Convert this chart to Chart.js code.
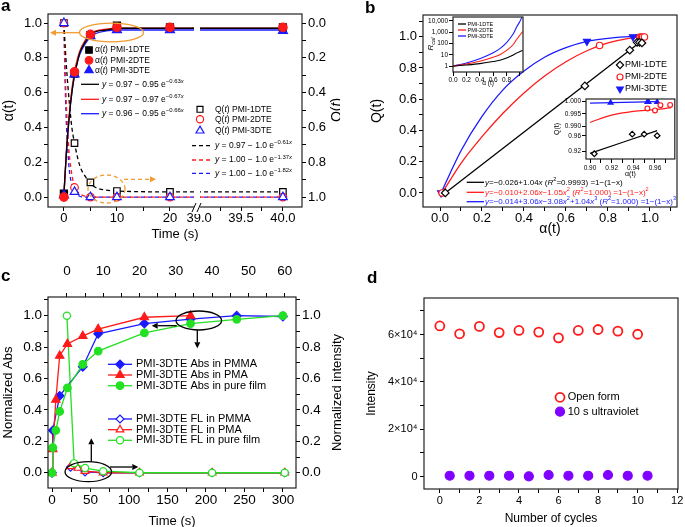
<!DOCTYPE html>
<html>
<head>
<meta charset="utf-8">
<script src="https://cdn.jsdelivr.net/npm/chart.js@4.4.1/dist/chart.umd.min.js"></script>
<style>
html, body { margin: 0; padding: 0; background: #fff; }
#fig { position: relative; width: 685px; height: 527px; overflow: hidden; background: #fff; font-family: "Liberation Sans", Arial, sans-serif; }
canvas { position: absolute; }
.lab { position: absolute; font-weight: bold; font-size: 17px; line-height: 17px; }
</style>
</head>
<body>
<div id="fig">
  <canvas id="ca" width="340" height="265" style="left:0px;top:0px"></canvas>
  <canvas id="cb" width="345" height="265" style="left:340px;top:0px"></canvas>
  <canvas id="cb1" width="108" height="80" style="left:420px;top:12px"></canvas>
  <canvas id="cb2" width="132" height="95" style="left:548px;top:92px"></canvas>
  <canvas id="cc" width="345" height="262" style="left:0px;top:265px"></canvas>
  <canvas id="cd" width="340" height="262" style="left:345px;top:265px"></canvas>
  <div class="lab" style="left:1px;top:-3px">a</div>
  <div class="lab" style="left:365px;top:-1px">b</div>
  <div class="lab" style="left:1px;top:267px">c</div>
  <div class="lab" style="left:367px;top:269px">d</div>
</div>
<script>
"use strict";
const FONT = '"Liberation Sans", Arial, sans-serif';
Chart.defaults.font.family = FONT;
Chart.defaults.color = '#000';

// ---------- panel a : conversion vs time ----------
const aTime = [0, 2, 5, 10, 20, 40];
const aAlpha1 = [0.02, 0.71, 0.93, 0.985, 0.975, 0.975];
const aAlpha2 = [0.0, 0.72, 0.935, 0.975, 0.975, 0.975];
const aAlpha3 = [0.01, 0.705, 0.925, 0.96, 0.96, 0.955];
const aQ1 = [0, 0.69, 0.915, 0.965, 0.97, 0.97];
const aQ2 = [0, 0.945, 1.0, 1.0, 1.0, 1.0];
const aQ3 = [0, 0.97, 1.0, 1.0, 1.0, 1.0];
const aFitTime = [0, 0.5, 1, 1.5, 2, 2.5, 3, 4, 5, 6, 8, 10, 15, 20, 39, 40];
const aFitAlpha1 = [0.02, 0.27, 0.46, 0.60, 0.70, 0.77, 0.83, 0.89, 0.93, 0.95, 0.96, 0.97, 0.97, 0.97, 0.97, 0.97];
const aFitAlpha2 = [0.0, 0.28, 0.47, 0.62, 0.72, 0.79, 0.84, 0.90, 0.94, 0.955, 0.965, 0.97, 0.97, 0.97, 0.97, 0.97];
const aFitAlpha3 = [0.01, 0.27, 0.46, 0.60, 0.70, 0.77, 0.82, 0.88, 0.92, 0.94, 0.955, 0.96, 0.96, 0.96, 0.96, 0.96];
const aFitQTime = [0, 0.25, 0.5, 0.75, 1, 1.5, 2, 3, 4, 5, 6, 8, 10, 20, 39, 40];
const aFitQ1 = [0, 0.14, 0.26, 0.36, 0.45, 0.60, 0.69, 0.82, 0.88, 0.92, 0.945, 0.96, 0.965, 0.97, 0.97, 0.97];
const aFitQ2 = [0, 0.29, 0.50, 0.64, 0.75, 0.87, 0.94, 0.98, 0.995, 1, 1, 1, 1, 1, 1, 1];
const aFitQ3 = [0, 0.37, 0.60, 0.74, 0.84, 0.93, 0.97, 0.995, 1, 1, 1, 1, 1, 1, 1, 1];
const aXTicks = [0, 5, 10, 15, 20, 39, 39.25, 39.5, 39.75, 40];
const aXLabels = ['0', '', '10', '', '20', '39.0', '', '39.5', '', '40.0'];
const tenthTicks = [0, 0.1, 0.2, 0.3, 0.4, 0.5, 0.6, 0.7, 0.8, 0.9, 1.0, 1.1];
const tenthLabels = ['0.0', '', '0.2', '', '0.4', '', '0.6', '', '0.8', '', '1.0', ''];

// ---------- panel b : Q vs alpha ----------
const bX1 = [0.025, 0.69, 0.904, 0.939, 0.950, 0.962];
const bY1 = [0.0, 0.685, 0.914, 0.964, 0.964, 0.960];
const bX2 = [0.01, 0.76, 0.953, 0.960, 0.965, 0.974];
const bY2 = [0.0, 0.944, 0.9972, 0.9964, 0.9985, 0.9986];
const bX3 = [0.005, 0.70, 0.919, 0.953, 0.954, 0.962];
const bY3 = [0.0, 0.97, 0.9995, 0.9998, 0.9998, 0.9998];
const bFitX1 = [0.025, 0.965];
const bFitY1 = [0.0, 0.978];
const bFitX2 = [0.01, 0.1, 0.2, 0.3, 0.4, 0.5, 0.6, 0.7, 0.8, 0.9, 0.975];
const bFitY2 = [0.0, 0.19, 0.36, 0.51, 0.64, 0.75, 0.84, 0.91, 0.96, 0.99, 1.0];
const bFitX3 = [0.005, 0.1, 0.2, 0.3, 0.4, 0.5, 0.6, 0.7, 0.8, 0.9, 0.962];
const bFitY3 = [0.0, 0.27, 0.49, 0.66, 0.78, 0.87, 0.93, 0.97, 0.99, 1.0, 1.0];
// inset: R_cal (log)
const rcalX = [0, 0.2, 0.4, 0.6, 0.7, 0.8, 0.9, 0.95, 1.0, 1.04];
const rcal1 = [1, 1.25, 1.65, 2.5, 3.3, 5.2, 9.5, 14, 19, 24];
const rcal2 = [1, 1.55, 2.7, 6, 10, 24, 80, 220, 550, 1100];
const rcal3 = [1, 1.9, 4.5, 15, 35, 120, 700, 2800, 9000, 30000];
const rcalYTicks = [1, 10, 100, 1000, 10000];
const rcalYLabels = ['1', '10', '100', '1,000', '10,000'];
const rcalXTicks = [0, 0.2, 0.4, 0.6, 0.8, 1.0];
const rcalXLabels = ['0.0', '0.2', '0.4', '0.6', '0.8', ''];
// inset: zoom near alpha = 1 (broken Q axis)
const iFitX1 = [0.90, 0.962];
const iFitY1 = [0.915, 0.973];
const iFitX2 = [0.90, 0.92, 0.94, 0.96, 0.975];
const iFitY2 = [0.9916, 0.9945, 0.996, 0.9967, 0.9975];
const iFitX3 = [0.90, 0.962];
const iFitY3 = [0.9993, 0.9999];
const iXTicks = [0.90, 0.91, 0.92, 0.93, 0.94, 0.95, 0.96, 0.97];
const iXLabels = ['0.90', '', '0.92', '', '0.94', '', '0.96', ''];
const iYTicks = [0.92, 0.96, 0.99, 0.995, 1.0];
const iYLabels = ['0.92', '0.96', '0.990', '0.995', '1.000'];

// ---------- panel c : absorbance / fluorescence kinetics ----------
const cTimePMMA = [0, 1, 10, 40, 60, 120, 180, 240, 300];
const cAbsPMMA = [0, 0.27, 0.49, 0.675, 0.885, 0.95, 0.978, 1.0, 0.995];
const cTimePMA = [0, 1, 5, 10, 20, 40, 60, 120, 180];
const cAbsPMA = [0, 0.15, 0.465, 0.745, 0.82, 0.87, 0.915, 0.99, 1.0];
const cTimeFilm = [0, 1, 5, 10, 20, 40, 60, 120, 180, 240, 300];
const cAbsFilm = [0, 0.16, 0.27, 0.39, 0.54, 0.69, 0.775, 0.89, 0.95, 0.977, 1.0];
const cFlTimePMMA = [1, 5, 10, 20, 40, 60];
const cFlPMMA = [0.035, 0.005, 0.0, 0.0, 0.0, 0.0];
const cFlTimePMA = [1, 3, 5, 10, 20, 40, 60];
const cFlPMA = [0.04, 0.03, 0.01, 0.0, 0.0, 0.0, 0.0];
const cFlTimeFilm = [0, 2, 5, 10, 20, 40, 60];
const cFlFilm = [1.0, 0.06, 0.03, 0.01, 0.0, 0.0, 0.0];
const cXTicks = [0, 25, 50, 75, 100, 125, 150, 175, 200, 225, 250, 275, 300];
const cXLabels = ['0', '', '50', '', '100', '', '150', '', '200', '', '250', '', '300'];
const cTopTicks = [0, 5, 10, 15, 20, 25, 30, 35, 40, 45, 50, 55, 60];
const cTopLabels = ['0', '', '10', '', '20', '', '30', '', '40', '', '50', '', '60'];

// ---------- panel d : cycling ----------
const dCycles = [0, 1, 2, 3, 4, 5, 6, 7, 8, 9, 10];
const dOpen = [63600, 60300, 63400, 60800, 61700, 61000, 58600, 61700, 62100, 61400, 60100];
const dUvCycles = [0.5, 1.5, 2.5, 3.5, 4.5, 5.5, 6.5, 7.5, 8.5, 9.5, 10.5];
const dUv = [400, 400, 400, 400, 150, 700, 400, 400, 700, 400, 400];
const dXTicks = [0, 1, 2, 3, 4, 5, 6, 7, 8, 9, 10, 11, 12];
const dXLabels = ['0', '', '2', '', '4', '', '6', '', '8', '', '10', '', '12'];
const dYTicks = [0, 10000, 20000, 30000, 40000, 50000, 60000, 70000];
const dYLabels = ['0', '', '2×10⁴', '', '4×10⁴', '', '6×10⁴', ''];

const BLACK = '#000000', RED = '#ff1a1a', BLUE = '#1a1aff', GREEN = '#22e022', ORANGE = '#f29b30', VIOLET = '#8000ff';

// broken time axis of panel a
const aX = t => t <= 20 ? t : 25.5 + (t - 39) * 15.8;
// broken Q axis of the second inset in panel b
const iQ = q => q >= 0.985 ? 25 + (q - 0.99) * 2500 : (q - 0.92) * 392;

// ---------- helpers ----------
const pairs = (xs, ys, fx, fy) => xs.map((x, i) => ({x: fx ? fx(x) : x, y: fy ? fy(ys[i]) : ys[i]}));

function marks(data, color, style, r, filled, extra) {
  return Object.assign({
    data, showLine: false, pointStyle: style, pointRadius: r, pointRotation: 0,
    pointBackgroundColor: filled ? color : '#fff', pointBorderColor: color, pointBorderWidth: 1.2,
    order: 0
  }, extra || {});
}
function curve(data, color, dash, extra) {
  return Object.assign({
    data, showLine: true, borderColor: color, borderWidth: 1.3, borderDash: dash || [],
    pointRadius: 0, cubicInterpolationMode: 'monotone', order: 10
  }, extra || {});
}
function axis(pos, min, max, ticks, labels, size, fit, pad, title, extra) {
  const horiz = pos === 'top' || pos === 'bottom';
  return Object.assign({
    type: 'linear', position: pos, min, max,
    afterBuildTicks: s => { s.ticks = ticks.map(v => ({value: v})); },
    afterFit: s => { if (horiz) s.height = fit; else s.width = fit; },
    ticks: {callback: (v, i) => labels[i], font: {size}, color: '#000', padding: pad, maxRotation: 0, minRotation: 0, autoSkip: false},
    grid: {drawOnChartArea: false, drawTicks: true, tickLength: 4, tickColor: '#000', lineWidth: 1},
    border: {display: false},
    title: title ? {display: true, text: title.text, font: {size: title.size}, color: '#000', padding: {top: title.pad, bottom: title.pad}} : {display: false}
  }, extra || {});
}
function opts(padding, scales) {
  return {
    responsive: false, animation: false, events: [],
    layout: {padding},
    plugins: {legend: {display: false}, tooltip: {enabled: false}},
    scales
  };
}
const frame = {
  id: 'frame',
  afterDatasetsDraw(chart) {
    const {ctx, chartArea: a} = chart;
    ctx.save();
    ctx.strokeStyle = '#222'; ctx.lineWidth = 1.2;
    ctx.strokeRect(a.left, a.top, a.right - a.left, a.bottom - a.top);
    ctx.restore();
  }
};
const whiteArea = {
  id: 'whiteArea',
  beforeDraw(chart) {
    const {ctx, chartArea: a} = chart;
    ctx.save(); ctx.fillStyle = '#fff';
    ctx.fillRect(a.left, a.top, a.right - a.left, a.bottom - a.top);
    ctx.restore();
  }
};
function rich(ctx, x, y, parts, size, color, align, rot) {
  const fontOf = f => (f.includes('i') ? 'italic ' : '') + ((f.includes('s') || f.includes('b')) ? size * 0.7 : size) + 'px ' + FONT;
  ctx.save();
  ctx.translate(x, y);
  if (rot) ctx.rotate(rot);
  ctx.fillStyle = color; ctx.textBaseline = 'middle'; ctx.textAlign = 'left';
  let cx = 0;
  if (align === 'center') {
    let w = 0;
    for (const [t, f = ''] of parts) { ctx.font = fontOf(f); w += ctx.measureText(t).width; }
    cx = -w / 2;
  }
  for (const [t, f = ''] of parts) {
    ctx.font = fontOf(f);
    const dy = f.includes('s') ? -size * 0.35 : (f.includes('b') ? size * 0.3 : 0);
    ctx.fillText(t, cx, dy);
    cx += ctx.measureText(t).width;
  }
  ctx.restore();
}
function mark(ctx, style, x, y, r, color, filled, rot, lw) {
  ctx.save();
  ctx.fillStyle = filled ? color : '#fff';
  ctx.strokeStyle = color; ctx.lineWidth = lw || 1.2; ctx.setLineDash([]);
  Chart.helpers.drawPoint(ctx, {pointStyle: style, radius: r, rotation: rot || 0, borderWidth: lw || 1.2}, x, y);
  ctx.restore();
}
function seg(ctx, x1, y1, x2, y2, color, dash, lw) {
  ctx.save(); ctx.strokeStyle = color; ctx.lineWidth = lw || 1.3; ctx.setLineDash(dash || []);
  ctx.beginPath(); ctx.moveTo(x1, y1); ctx.lineTo(x2, y2); ctx.stroke(); ctx.restore();
}
function arrow(ctx, x1, y1, x2, y2, color, dash) {
  const ang = Math.atan2(y2 - y1, x2 - x1), h = 6;
  const bx = x2 - h * Math.cos(ang), by = y2 - h * Math.sin(ang);
  seg(ctx, x1, y1, bx, by, color, dash, 1.3);
  ctx.save(); ctx.fillStyle = color; ctx.beginPath();
  ctx.moveTo(x2, y2);
  ctx.lineTo(bx + 3 * Math.sin(ang), by - 3 * Math.cos(ang));
  ctx.lineTo(bx - 3 * Math.sin(ang), by + 3 * Math.cos(ang));
  ctx.closePath(); ctx.fill(); ctx.restore();
}
function ellipse(ctx, cx, cy, rx, ry, color, dash) {
  ctx.save(); ctx.strokeStyle = color; ctx.lineWidth = 1.3; ctx.setLineDash(dash || []);
  ctx.beginPath(); ctx.ellipse(cx, cy, rx, ry, 0, 0, 2 * Math.PI); ctx.stroke(); ctx.restore();
}

// ================= panel a =================
const aDeco = {
  id: 'aDeco',
  afterDraw(chart) {
    const ctx = chart.ctx, ca = chart.chartArea;
    // axis break
    ctx.save(); ctx.fillStyle = '#fff';
    ctx.fillRect(194, ca.top + 1, 6, ca.bottom - ca.top + 6);
    ctx.restore();
    seg(ctx, 192, ca.bottom + 5, 196, ca.bottom - 4, '#000', [], 1);
    seg(ctx, 197, ca.bottom + 5, 201, ca.bottom - 4, '#000', [], 1);
    // right axis title
    rich(ctx, 337, 110, [['Q(', ''], ['t', 'i'], [')', '']], 14, '#000', 'center', -Math.PI / 2);
    // orange guides
    ellipse(ctx, 111.5, 32.5, 32, 9.3, ORANGE);
    arrow(ctx, 79.5, 32.7, 50, 32.7, ORANGE);
    ellipse(ctx, 106.5, 189, 18.5, 14, ORANGE, [4, 3]);
    arrow(ctx, 124, 179.3, 156, 179.3, ORANGE, [4, 3]);
    // legend: alpha markers
    const s = 8.5;
    const al = [[BLACK, 'rect', 4.6], [RED, 'circle', 3.8], [BLUE, 'triangle', 4.8]];
    [50, 60.3, 70.3].forEach((y, i) => {
      mark(ctx, al[i][1], 89, y, al[i][2], al[i][0], true);
      rich(ctx, 95, y, [['α(', ''], ['t', 'i'], [') PMI-' + (i + 1) + 'DTE', '']], s, '#000');
    });
    const fits = [[BLACK, '0.97 − 0.95 e', '−0.63'], [RED, '0.97 − 0.97 e', '−0.67'], [BLUE, '0.96 − 0.95 e', '−0.66']];
    [84.3, 99.3, 113.7].forEach((y, i) => {
      seg(ctx, 81, y, 99, y, fits[i][0]);
      rich(ctx, 102, y, [['y', 'i'], [' = ' + fits[i][1], ''], [fits[i][2], 's'], ['x', 'si']], s, '#000');
    });
    const ql = [[BLACK, 'rect', 4.2], [RED, 'circle', 3.6], [BLUE, 'triangle', 4.6]];
    [109.3, 119.3, 130.7].forEach((y, i) => {
      mark(ctx, ql[i][1], 200, y, ql[i][2], ql[i][0], false);
      rich(ctx, 215, y, [['Q(', ''], ['t', 'i'], [') PMI-' + (i + 1) + 'DTE', '']], s, '#000');
    });
    const qf = [[BLACK, '0.97 − 1.0 e', '−0.61'], [RED, '1.00 − 1.0 e', '−1.37'], [BLUE, '1.00 − 1.0 e', '−1.82']];
    [145.7, 160, 173.3].forEach((y, i) => {
      seg(ctx, 192, y, 212, y, qf[i][0], [4, 3]);
      rich(ctx, 215, y, [['y', 'i'], [' = ' + qf[i][1], ''], [qf[i][2], 's'], ['x', 'si']], s, '#000');
    });
  }
};

new Chart(document.getElementById('ca'), {
  type: 'line',
  data: {datasets: [
    marks(pairs(aTime, aAlpha1, aX), BLACK, 'rect', 5, true, {order: 2}),
    marks(pairs(aTime, aAlpha2, aX), RED, 'circle', 4.2, true, {order: 0}),
    marks(pairs(aTime, aAlpha3, aX), BLUE, 'triangle', 5.2, true, {order: 1}),
    marks(pairs(aTime, aQ1, aX), BLACK, 'rect', 4.6, false, {yAxisID: 'y2', order: 5}),
    marks(pairs(aTime, aQ2, aX), RED, 'circle', 3.8, false, {yAxisID: 'y2', order: 4}),
    marks(pairs(aTime, aQ3, aX), BLUE, 'triangle', 5, false, {yAxisID: 'y2', order: 3}),
    curve(pairs(aFitTime, aFitAlpha1, aX), BLACK),
    curve(pairs(aFitTime, aFitAlpha2, aX), RED),
    curve(pairs(aFitTime, aFitAlpha3, aX), BLUE),
    curve(pairs(aFitQTime, aFitQ1, aX), BLACK, [4, 3], {yAxisID: 'y2'}),
    curve(pairs(aFitQTime, aFitQ2, aX), RED, [4, 3], {yAxisID: 'y2'}),
    curve(pairs(aFitQTime, aFitQ3, aX), BLUE, [4, 3], {yAxisID: 'y2'})
  ]},
  options: opts({top: 14, left: 0, right: 0, bottom: 0}, {
    x: axis('bottom', -3, 44.9, aXTicks.map(aX), aXLabels, 13, 58, 0, {text: 'Time (s)', size: 13, pad: 23}),
    y: axis('left', -0.057, 1.052, tenthTicks.slice(0, 11), tenthLabels, 13, 48, 2, {text: 'α(t)', size: 14, pad: 1}),
    y2: axis('right', -0.052, 1.057, tenthTicks.slice(0, 11), tenthLabels, 13, 38, 2, null, {reverse: true})
  }),
  plugins: [frame, aDeco]
});

// ================= panel b =================
const bDeco = {
  id: 'bDeco',
  afterDraw(chart) {
    const ctx = chart.ctx;
    const lg = [[BLACK, 'rectRot', 3.6, false, 0], [RED, 'circle', 3, false, 0], [BLUE, 'triangle', 3.8, true, 180]];
    [65, 77, 89].forEach((y, i) => {
      mark(ctx, lg[i][1], 280, y, lg[i][2], lg[i][0], lg[i][3], lg[i][4]);
      rich(ctx, 285, y, [['PMI-' + (i + 1) + 'DTE', '']], 9, '#000');
    });
    const rows = [
      [BLACK, [['y', 'i'], ['=−0.026+1.04'], ['x', 'i'], [' ('], ['R', 'i'], ['2', 's'], ['=0.9993) =1−(1−x)']]],
      [RED, [['y', 'i'], ['=−0.010+2.06'], ['x', 'i'], ['−1.05'], ['x', 'i'], ['2', 's'], [' ('], ['R', 'i'], ['2', 's'], ['=1.000) =1−(1−x)'], ['2', 's']]],
      [BLUE, [['y', 'i'], ['=−0.014+3.06'], ['x', 'i'], ['−3.08'], ['x', 'i'], ['2', 's'], ['+1.04'], ['x', 'i'], ['3', 's'], [' ('], ['R', 'i'], ['2', 's'], ['=1.000) =1−(1−x)'], ['3', 's']]]
    ];
    [182.3, 192.3, 201.7].forEach((y, i) => {
      seg(ctx, 126.7, y, 144, y, rows[i][0]);
      rich(ctx, 145, y, rows[i][1], 8, rows[i][0]);
    });
  }
};
new Chart(document.getElementById('cb'), {
  type: 'line',
  data: {datasets: [
    marks(pairs(bX1, bY1), BLACK, 'rectRot', 3.8, false),
    marks(pairs(bX2, bY2), RED, 'circle', 3.2, false),
    marks(pairs(bX3, bY3), BLUE, 'triangle', 4, true, {pointRotation: 180}),
    curve(pairs(bFitX1, bFitY1), BLACK),
    curve(pairs(bFitX2, bFitY2), RED),
    curve(pairs(bFitX3, bFitY3), BLUE)
  ]},
  options: opts({top: 15, left: 0, right: 8, bottom: 0}, {
    x: axis('bottom', -0.081, 1.129, tenthTicks, tenthLabels, 13, 58, 0, {text: 'α(t)', size: 14, pad: 27}),
    y: axis('left', -0.09, 1.139, tenthTicks, tenthLabels, 13, 83, 2, {text: 'Q(t)', size: 14, pad: 29})
  }),
  plugins: [frame, bDeco]
});

// inset 1: R_cal on log axis
const b1Deco = {
  id: 'b1Deco',
  afterDraw(chart) {
    const ctx = chart.ctx;
    rich(ctx, 11, 32, [['R', 'i'], ['cal', 'bi']], 8, '#000', 'center', -Math.PI / 2);
    [[BLACK, 12], [RED, 18], [BLUE, 24]].forEach(([c, y], i) => {
      seg(ctx, 38, y, 46, y, c, [], 1.3);
      rich(ctx, 47.5, y, [['PMI-' + (i + 1) + 'DTE', '']], 5.5, '#000');
    });
  }
};
new Chart(document.getElementById('cb1'), {
  type: 'line',
  data: {datasets: [
    curve(pairs(rcalX, rcal1), BLACK, [], {borderWidth: 1.1}),
    curve(pairs(rcalX, rcal2), RED, [], {borderWidth: 1.1}),
    curve(pairs(rcalX, rcal3), BLUE, [], {borderWidth: 1.1})
  ]},
  options: opts({top: 5, left: 0, right: 5, bottom: 0}, {
    x: axis('bottom', 0, 1.045, rcalXTicks, rcalXLabels, 6.5, 20, 0, {text: 'α (t)', size: 6.5, pad: 5}),
    y: axis('left', 0.316, 21400, rcalYTicks, rcalYLabels, 6.5, 33, 1, null, {type: 'logarithmic'})
  }),
  plugins: [whiteArea, frame, b1Deco]
});

// inset 2: close-up near alpha = 1
new Chart(document.getElementById('cb2'), {
  type: 'line',
  data: {datasets: [
    marks(pairs(bX1.slice(2), bY1.slice(2), null, iQ), BLACK, 'rectRot', 2.8, false),
    marks(pairs(bX2.slice(2), bY2.slice(2), null, iQ), RED, 'circle', 2.4, false),
    marks(pairs(bX3.slice(2), bY3.slice(2), null, iQ), BLUE, 'triangle', 2.8, true),
    curve(pairs(iFitX1, iFitY1, null, iQ), BLACK, [], {borderWidth: 1.1}),
    curve(pairs(iFitX2, iFitY2, null, iQ), RED, [], {borderWidth: 1.1}),
    curve(pairs(iFitX3, iFitY3, null, iQ), BLUE, [], {borderWidth: 1.1})
  ]},
  options: opts({top: 7, left: 0, right: 5, bottom: 0}, {
    x: axis('bottom', 0.8963, 0.9783, iXTicks, iXLabels, 6.5, 28, 1, {text: 'α(t)', size: 7, pad: 9}),
    y: axis('left', -7.6, 52.4, iYTicks.map(iQ), iYLabels, 6.5, 38, 1, {text: 'Q(t)', size: 7, pad: 5})
  }),
  plugins: [whiteArea, frame]
});

// ================= panel c =================
const cDeco = {
  id: 'cDeco',
  afterDraw(chart) {
    const ctx = chart.ctx;
    rich(ctx, 337, 127.5, [['Normalized intensity', '']], 13, '#000', 'center', -Math.PI / 2);
    const rows = [
      [99.3, BLUE, 'rectRot', 4.3, true, 'PMI-3DTE Abs in PMMA'],
      [110, RED, 'triangle', 4.8, true, 'PMI-3DTE Abs in PMA'],
      [120.7, GREEN, 'circle', 3.8, true, 'PMI-3DTE Abs in pure film'],
      [154, BLUE, 'rectRot', 4, false, 'PMI-3DTE FL in PMMA'],
      [164.7, RED, 'triangle', 4.4, false, 'PMI-3DTE FL in PMA'],
      [175.3, GREEN, 'circle', 3.6, false, 'PMI-3DTE FL in pure film']
    ];
    rows.forEach(([y, c, st, r, f, t]) => {
      seg(ctx, 108, y, 132, y, c, [], 1.3);
      mark(ctx, st, 120, y, r, c, f);
      rich(ctx, 136, y, [[t, '']], 11, '#000');
    });
    ellipse(ctx, 198.8, 55.5, 22.8, 9.5, '#000');
    arrow(ctx, 176.7, 60.7, 151.7, 60.7, '#000');
    arrow(ctx, 197.3, 65, 197.3, 83.3, '#000');
    ellipse(ctx, 88.3, 206.7, 23.3, 10, '#000');
    arrow(ctx, 91.3, 196.7, 91.3, 173.3, '#000');
    arrow(ctx, 110, 202, 138.3, 202, '#000');
  }
};
const lineMarks = (data, color, style, r, filled, extra) => Object.assign(marks(data, color, style, r, filled), {showLine: true, borderColor: color, borderWidth: 1.3}, extra || {});
new Chart(document.getElementById('cc'), {
  type: 'line',
  data: {datasets: [
    lineMarks(pairs(cTimeFilm, cAbsFilm), GREEN, 'circle', 3.8, true, {order: 0}),
    lineMarks(pairs(cTimePMA, cAbsPMA), RED, 'triangle', 4.8, true, {order: 1}),
    lineMarks(pairs(cTimePMMA, cAbsPMMA), BLUE, 'rectRot', 4.3, true, {order: 2}),
    lineMarks(pairs(cFlTimeFilm, cFlFilm), GREEN, 'circle', 3.6, false, {order: 3, xAxisID: 'x2', yAxisID: 'y2'}),
    lineMarks(pairs(cFlTimePMA, cFlPMA), RED, 'triangle', 4.4, false, {order: 4, xAxisID: 'x2', yAxisID: 'y2'}),
    lineMarks(pairs(cFlTimePMMA, cFlPMMA), BLUE, 'rectRot', 4, false, {order: 5, xAxisID: 'x2', yAxisID: 'y2'})
  ]},
  options: opts({top: 0, left: 0, right: 0, bottom: 0}, {
    x: axis('bottom', -5.2, 317, cXTicks, cXLabels, 13.5, 39, 0, {text: 'Time (s)', size: 13, pad: -2.5}),
    x2: axis('top', -5.2, 63.1, cTopTicks, cTopLabels, 13.5, 32, 14),
    y: axis('left', -0.097, 1.119, tenthTicks, tenthLabels, 13.5, 48, 2, {text: 'Normalized Abs', size: 13, pad: 0.5}),
    y2: axis('right', -0.097, 1.119, tenthTicks, tenthLabels, 13.5, 49, 2)
  }),
  plugins: [frame, cDeco]
});

// ================= panel d =================
const dDeco = {
  id: 'dDeco',
  afterDraw(chart) {
    const ctx = chart.ctx;
    mark(ctx, 'circle', 215, 132.3, 4.5, RED, false, 0, 1.8);
    rich(ctx, 222.7, 132.3, [['Open form', '']], 11, '#000');
    mark(ctx, 'circle', 215, 146.7, 4.5, VIOLET, true);
    rich(ctx, 222.7, 146.7, [['10 s ultraviolet', '']], 11, '#000');
  }
};
new Chart(document.getElementById('cd'), {
  type: 'line',
  data: {datasets: [
    marks(pairs(dCycles, dOpen), RED, 'circle', 4.5, false, {pointBorderWidth: 1.8}),
    marks(pairs(dUvCycles, dUv), VIOLET, 'circle', 4.5, true)
  ]},
  options: opts({top: 33, left: 0, right: 7, bottom: 0}, {
    x: axis('bottom', -0.8, 12.04, dXTicks, dXLabels, 11, 38, 1, {text: 'Number of cycles', size: 12, pad: 1.5}),
    y: axis('left', -5200, 75400, dYTicks, dYLabels, 11, 79, 2.5, {text: 'Intensity', size: 12, pad: 19.5})
  }),
  plugins: [frame, dDeco]
});
</script>
</body>
</html>
